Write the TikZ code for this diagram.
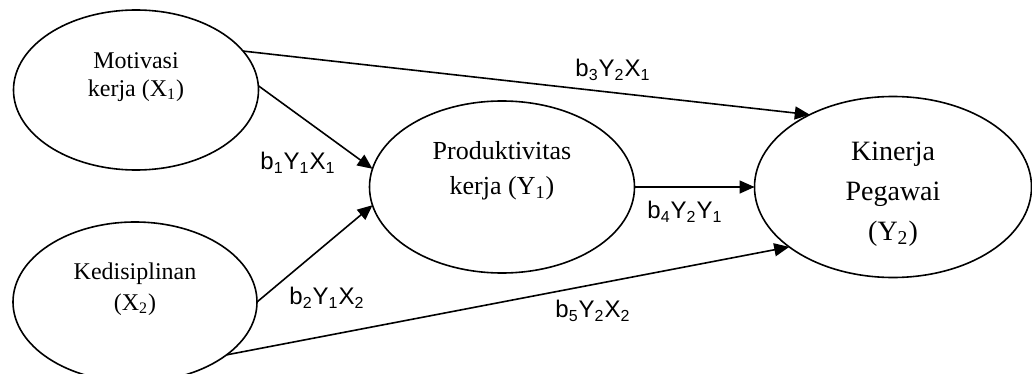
\documentclass[tikz,border=0pt]{standalone}
\usepackage{fontspec}
\setmainfont{Liberation Serif}
\newfontfamily\arialfont{Liberation Sans}
\usepackage{tikz}
\usetikzlibrary{shapes.geometric,positioning}
\usetikzlibrary{arrows.meta}
\tikzset{
    % 变量椭圆
    varellipse/.style={
        ellipse,
        draw=black,
        line width=0.8pt,
        inner sep=0pt,
        outer sep=0pt
    },
    % 路径箭头
    patharrow/.style={
        line width=0.8pt,
        black,
        -{Triangle[length=7.5pt, width=6.5pt]}
    },
    coeflabel/.style={
        font=\arialfont\fontsize{12}{14}\selectfont,
        inner sep=0pt
    }
}

\begin{document}
\begin{tikzpicture}[x=0.5pt,y=-0.5pt]
	\useasboundingbox (0,0) rectangle (1032,374);
	
	% 椭圆
	\node[varellipse,minimum width=122.5pt,minimum height=80pt] (mot) at (136,90) {};
	\node[varellipse,minimum width=122pt,minimum height=80pt] (kedi) at (135,302) {};
	\node[varellipse,minimum width=132.5pt,minimum height=86pt] (prod) at (502,187) {};
	\node[varellipse,minimum width=138.5pt,minimum height=90.5pt] (kin) at (893,187) {};
	
	% 椭圆内文字
	\node[align=center,font=\fontsize{12}{14}\selectfont] (motT) at (136,77) {Motivasi\\kerja (X\textsubscript{1})};
	\node[align=center,font=\fontsize{12}{15.5}\selectfont] (kediT) at (135,289) {Kedisiplinan\\(X\textsubscript{2})};
	\node[align=center,font=\fontsize{13}{17.5}\selectfont] (prodT) at (502,171) {Produktivitas\\kerja (Y\textsubscript{1})};
	\node[align=center,font=\fontsize{14}{20}\selectfont] (kinT) at (893,194) {Kinerja\\Pegawai\\(Y\textsubscript{2})};
	
	% 箭头
	\draw[patharrow] (mot.20) -- (kin.139);
	\draw[patharrow] (mot.2) -- (prod.172);
	\draw[patharrow] (kedi.0) -- (prod.188);
	\draw[patharrow] (prod.east) -- (kin.west);
	\draw[patharrow] (kedi.-30) -- (kin.210);
	
	% 系数标注
	\node[coeflabel] (b3) at (613,70) {b\textsubscript{3}Y\textsubscript{2}X\textsubscript{1}};
	\node[coeflabel] (b1) at (298,163) {b\textsubscript{1}Y\textsubscript{1}X\textsubscript{1}};
	\node[coeflabel] (b2) at (327,298) {b\textsubscript{2}Y\textsubscript{1}X\textsubscript{2}};
	\node[coeflabel] (b4) at (685,212) {b\textsubscript{4}Y\textsubscript{2}Y\textsubscript{1}};
	\node[coeflabel] (b5) at (593,311) {b\textsubscript{5}Y\textsubscript{2}X\textsubscript{2}};
\end{tikzpicture}
\end{document}
